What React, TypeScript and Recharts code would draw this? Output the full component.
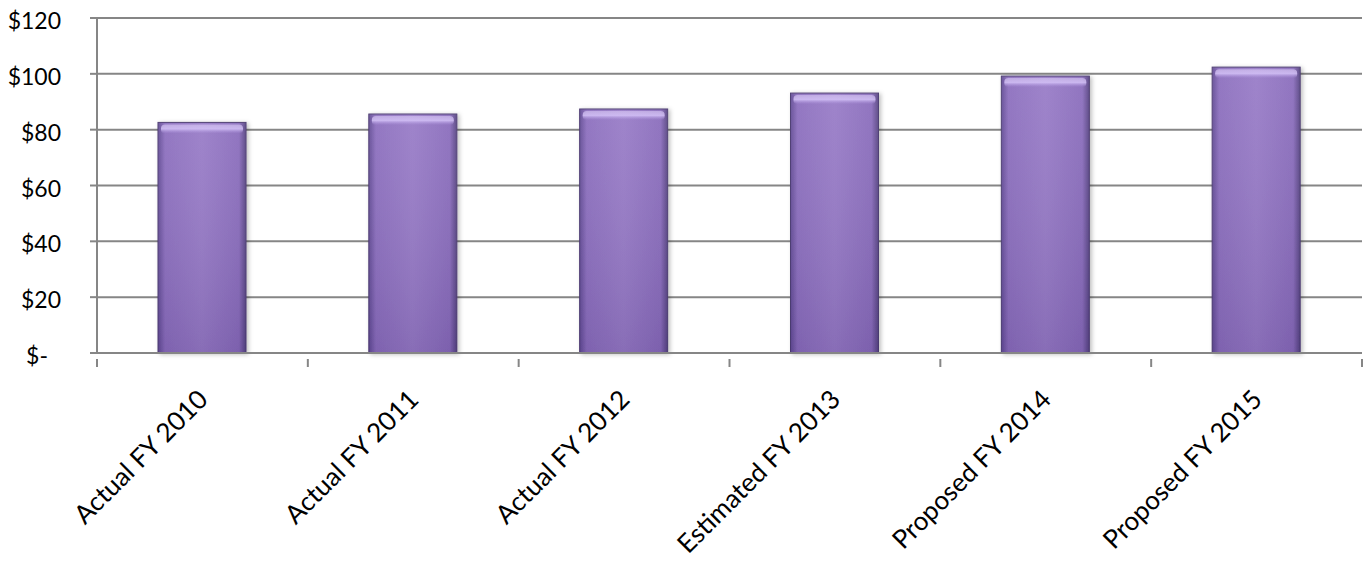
import { BarChart, Bar, XAxis, YAxis, CartesianGrid } from 'recharts'

const CATEGORIES = ['Actual FY 2010', 'Actual FY 2011', 'Actual FY 2012', 'Estimated FY 2013', 'Proposed FY 2014', 'Proposed FY 2015']
const AMOUNTS    = [82.6, 85.6, 87.4, 93.1, 99.2, 102.4]
const Y_TICKS    = [0, 20, 40, 60, 80, 100, 120]

const data = CATEGORIES.map((name, i) => ({ name, amount: AMOUNTS[i] }))

const W = 1367
const H = 563
const LEFT = 97
const RIGHT_PAD = 5
const HALF_BAND = (W - LEFT - RIGHT_PAD) / CATEGORIES.length / 2
const AXIS = '#868686'
const FONT = 'Lato, "Open Sans", sans-serif'

const YTick = ({ x, y, payload }: any) => (
  <text x={payload.value === 0 ? x - 40 : x - 27} y={y} dy={11} textAnchor="end" fontFamily={FONT} fontSize={23} fill="#000">
    {payload.value === 0 ? '$-' : `$${payload.value}`}
  </text>
)

const XTick = ({ x, y, payload, index }: any) => {
  const ax = x + 7
  const ay = y + 40
  return (
    <g>
      {index === 0 && <line x1={x - HALF_BAND} x2={x - HALF_BAND} y1={y - 2} y2={y + 6} stroke={AXIS} strokeWidth={2} />}
      <line x1={x + HALF_BAND} x2={x + HALF_BAND} y1={y - 2} y2={y + 6} stroke={AXIS} strokeWidth={2} />
      <text x={ax} y={ay} transform={`rotate(-45, ${ax}, ${ay})`} textAnchor="end" fontFamily={FONT} fontSize={26} fill="#000">
        {payload.value}
      </text>
    </g>
  )
}

const GlossyBar = ({ x, y, width, height }: any) => {
  if (!height || height <= 0) return null
  return (
    <g filter="url(#barShadow)">
      <rect x={x} y={y} width={width} height={height} fill="url(#barBody)" stroke="#4a3a70" strokeWidth={1} />
      <rect x={x} y={y} width={width} height={height} fill="url(#barShade)" />
      <rect x={x + 3} y={y + 2} width={width - 6} height={9} rx={4} fill="url(#barGloss)" />
    </g>
  )
}

export default function App() {
  return (
    <div style={{ position: 'absolute', left: 0, top: 0, width: W, height: H, background: '#fff' }}>
      <BarChart width={W} height={H} data={data} margin={{ top: 18, right: RIGHT_PAD, left: 0, bottom: 0 }} barSize={88}>
        <defs>
          <linearGradient id="barBody" x1="0" y1="0" x2="1" y2="0">
            <stop offset="0%" stopColor="#5f4893" />
            <stop offset="8%" stopColor="#8a6cbd" />
            <stop offset="50%" stopColor="#9679c6" />
            <stop offset="92%" stopColor="#886abb" />
            <stop offset="100%" stopColor="#53407f" />
          </linearGradient>
          <linearGradient id="barShade" x1="0" y1="0" x2="0" y2="1">
            <stop offset="0%" stopColor="#ffffff" stopOpacity={0.08} />
            <stop offset="100%" stopColor="#3a2a60" stopOpacity={0.15} />
          </linearGradient>
          <linearGradient id="barGloss" x1="0" y1="0" x2="0" y2="1">
            <stop offset="0%" stopColor="#e6d8ff" stopOpacity={0.5} />
            <stop offset="50%" stopColor="#d4c2f7" stopOpacity={0.85} />
            <stop offset="100%" stopColor="#b49be3" stopOpacity={0} />
          </linearGradient>
          <filter id="barShadow" x="-10%" y="-5%" width="130%" height="115%">
            <feDropShadow dx={2} dy={1} stdDeviation={2} floodColor="#000" floodOpacity={0.25} />
          </filter>
        </defs>
        <CartesianGrid vertical={false} stroke={AXIS} strokeWidth={2} />
        <XAxis dataKey="name" interval={0} height={H - 353} stroke={AXIS} strokeWidth={2} tickLine={false} tick={<XTick />} />
        <YAxis domain={[0, 120]} ticks={Y_TICKS} width={LEFT} stroke={AXIS} strokeWidth={2} tickSize={7} tick={<YTick />} />
        <Bar dataKey="amount" shape={<GlossyBar />} isAnimationActive={false} />
      </BarChart>
    </div>
  )
}
